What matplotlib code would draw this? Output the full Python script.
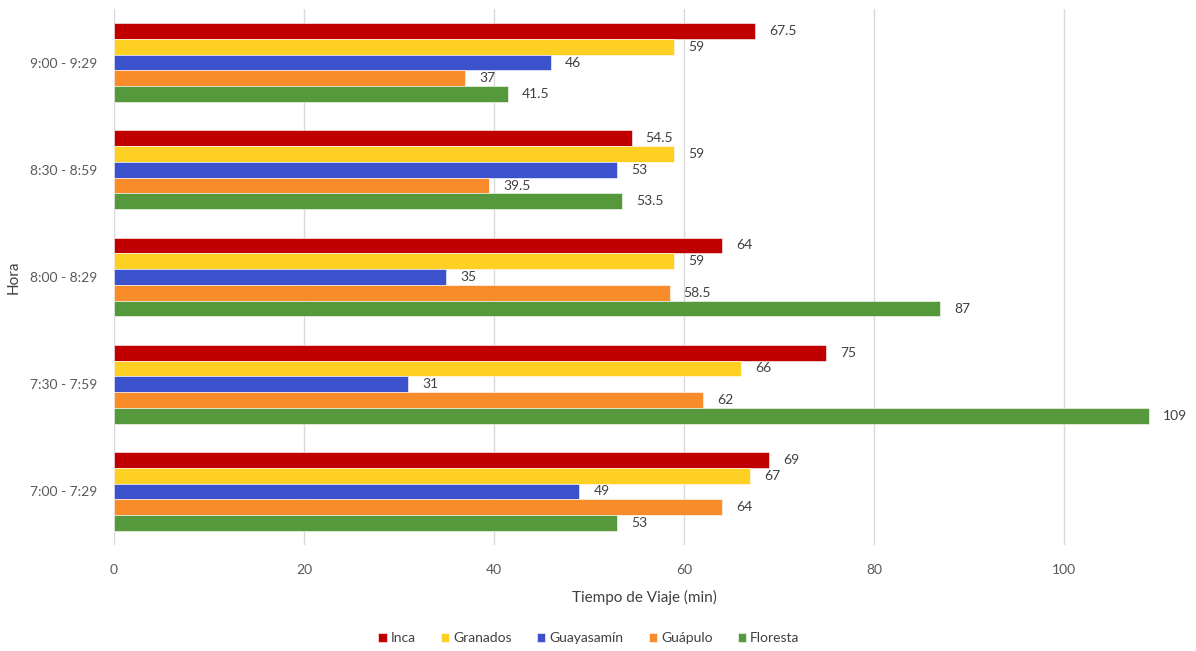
import matplotlib
matplotlib.use("Agg")
import matplotlib.pyplot as plt
import numpy as np

categories = ["7:00 - 7:29", "7:30 - 7:59", "8:00 - 8:29", "8:30 - 8:59", "9:00 - 9:29"]
series_names = ["Inca", "Granados", "Guayasamín", "Guápulo", "Floresta"]
inca = [69, 75, 64, 54.5, 67.5]
granados = [67, 66, 59, 59, 59]
guayasamin = [49, 31, 35, 53, 46]
guapulo = [64, 62, 58.5, 39.5, 37]
floresta = [53, 109, 87, 53.5, 41.5]
series_values = [inca, granados, guayasamin, guapulo, floresta]
colors = ["#C00000", "#FFD024", "#3C52CC", "#F88B2A", "#56993C"]
xticks = [0, 20, 40, 60, 80, 100]

plt.rcParams["font.family"] = ["Lato", "DejaVu Sans"]

fig = plt.figure(figsize=(11.96, 6.51), dpi=100)
ax = fig.add_axes([114 / 1196, 1 - 545 / 651, (1175 - 114) / 1196, (545 - 9) / 651])

n = len(series_names)
bar_h = 0.147
y = np.arange(len(categories))
for i, (name, vals, col) in enumerate(zip(series_names, series_values, colors)):
    offs = (n - 1) / 2 - i
    pos = y + offs * bar_h
    bars = ax.barh(pos, vals, height=bar_h, color=col, edgecolor="white",
                   linewidth=0.4, label=name, zorder=3)
    for b, v in zip(bars, vals):
        txt = f"{v:g}"
        ax.annotate(txt, (v, b.get_y() + b.get_height() / 2), xytext=(10, 0),
                    textcoords="offset points", va="center", ha="left",
                    fontsize=10, color="#404040")

ax.set_xlim(0, 111.7)
ax.set_ylim(-0.5, len(categories) - 0.5)
ax.set_xticks(xticks)
ax.set_xticklabels([str(t) for t in xticks], fontsize=10, color="#595959")
ax.set_yticks(y)
ax.set_yticklabels(categories, fontsize=10, color="#595959")
ax.tick_params(axis="x", length=0, pad=14)
ax.tick_params(axis="y", length=0, pad=12)
ax.grid(axis="x", color="#D9D9D9", linewidth=1, zorder=0)
for s in ax.spines.values():
    s.set_visible(False)

ax.set_xlabel("Tiempo de Viaje (min)", fontsize=11, color="#404040", labelpad=10)
fig.text(14 / 1196, 1 - 277 / 651, "Hora", rotation=90, ha="center", va="center",
         fontsize=11, color="#404040")

handles, labels = ax.get_legend_handles_labels()
fig.legend(handles, labels, loc="center", bbox_to_anchor=(589 / 1196, 1 - 638 / 651),
           ncol=5, frameon=False, fontsize=10, handlelength=0.6, handleheight=0.6,
           handletextpad=0.3, columnspacing=1.8, labelcolor="#404040")

fig.savefig("out.png", dpi=100)
